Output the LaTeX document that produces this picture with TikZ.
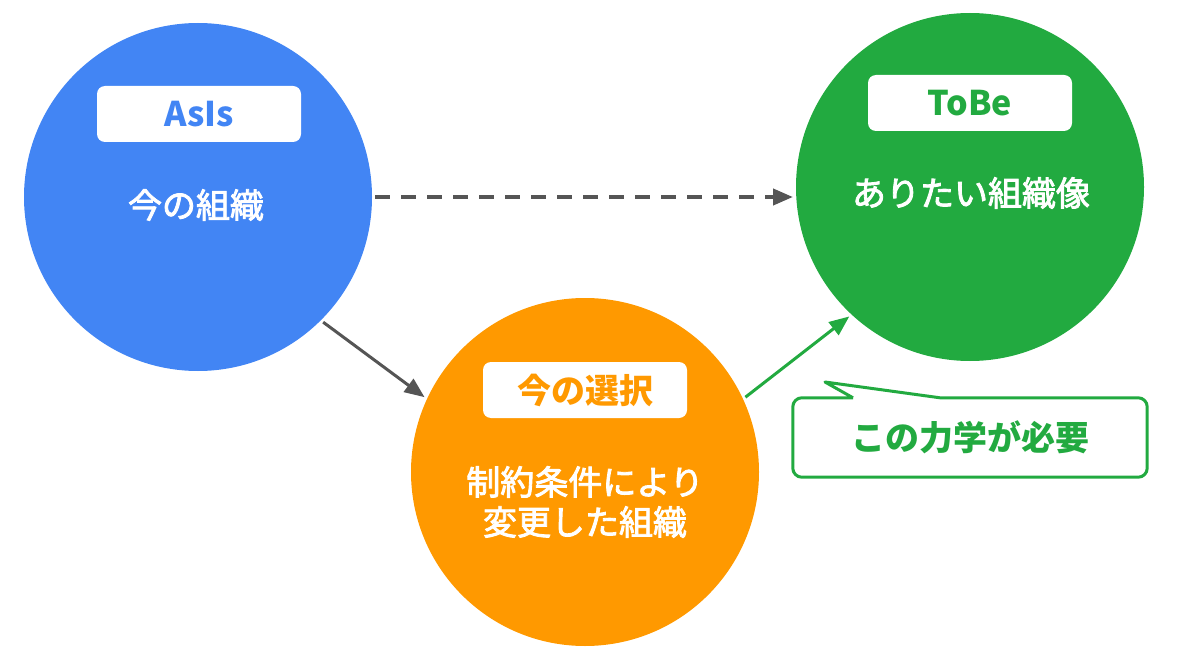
\documentclass[tikz,border=0pt]{standalone}
\usepackage{fontspec}
\setmainfont{Noto Sans CJK JP}
\newfontfamily\jpmid{Noto Sans CJK JP}[FakeBold=2.5]
\usetikzlibrary{arrows.meta,positioning}
\definecolor{asisblue}{HTML}{4285F4}
\definecolor{tobegreen}{HTML}{22AA40}
\definecolor{noworange}{HTML}{FF9900}
\definecolor{arrowgray}{HTML}{555555}

\begin{document}
\begin{tikzpicture}[x=1pt,y=-1pt,
  blob/.style={circle,minimum size=348pt,inner sep=0pt,outer sep=3pt},
  tag/.style={fill=white,rounded corners=8pt,minimum width=204pt,minimum height=56pt,
    font=\fontsize{34}{40}\selectfont\bfseries},
  words/.style={text=white,align=center,font=\jpmid\fontsize{34}{40}\selectfont},
  flow/.style={line width=3pt,-{Triangle[length=20pt,width=16pt]}}]
  \useasboundingbox (0,0) rectangle (1200,655);
  % the three circles
  \node[blob,fill=asisblue] (asis) at (198,197) {};
  \node[blob,fill=tobegreen] (tobe) at (970,187) {};
  \node[blob,fill=noworange] (now) at (585,472) {};
  \node[tag,text=asisblue] (asistag) at (199,114) {AsIs};
  \node[tag,text=tobegreen] (tobetag) at (970,103) {ToBe};
  \node[tag,text=noworange] (nowtag) at (585,390) {今の選択};
  \node[words] (asistext) at (196,205) {今の組織};
  \node[words] (tobetext) at (971,193) {ありたい組織像};
  \node[words] (nowtext) at (585,502) {制約条件により\\変更した組織};
  % arrows
  \draw[flow,arrowgray,line width=4pt,dash pattern=on 15pt off 11pt] (asis.east) -- (asis.east -| tobe.west);
  \draw[flow,arrowgray] (asis.-45) -- (now.155);
  \draw[flow,tobegreen] (now.25) -- (tobe.-133);
  % callout
  \node[minimum width=354pt,minimum height=79pt,text=tobegreen,
    font=\fontsize{34}{40}\selectfont\bfseries] (need) at (970,437.5) {この力学が必要};
  \coordinate (ptr) at (825,382);
  \draw[tobegreen,line width=3pt,line join=round]
    ([xshift=-117pt]need.north) -- (ptr) -- ([xshift=-30pt]need.north)
    [rounded corners=9pt] -- (need.north east) -- (need.south east)
    -- (need.south west) -- (need.north west) -- ([xshift=-117pt]need.north);
\end{tikzpicture}
\end{document}
